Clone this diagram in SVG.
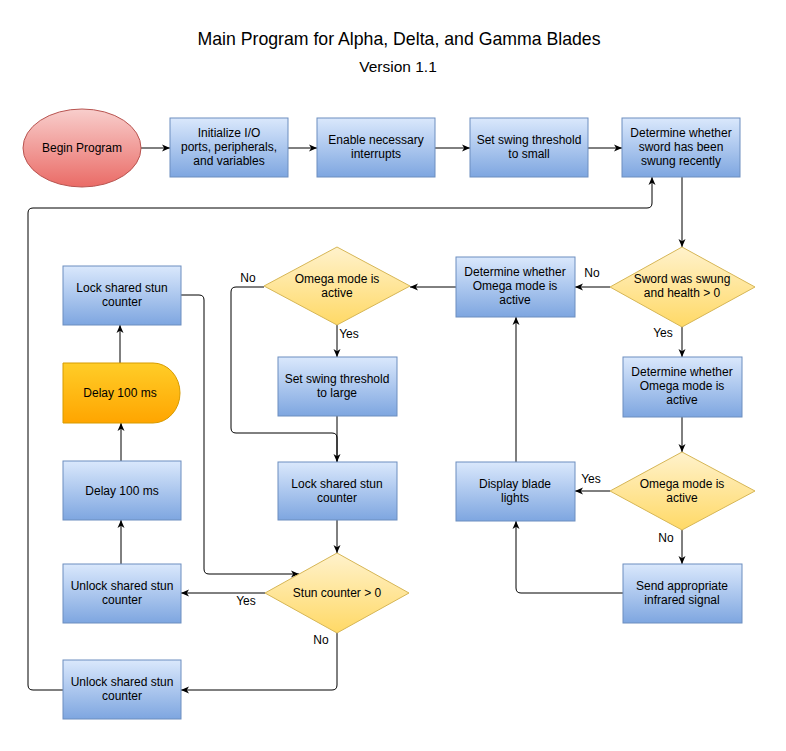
<svg xmlns="http://www.w3.org/2000/svg" width="786" height="751" viewBox="0 0 786 751">
<style>
text{font-family:"Liberation Sans",Arial,sans-serif;font-size:12px;fill:#000;text-anchor:middle}
.title{font-size:17.7px}
.sub{font-size:15.5px}
.box{fill:url(#gBlue);stroke:#6c8ebf;stroke-width:1}
.dia{fill:url(#gYel);stroke:#d6b656;stroke-width:1}
.start{fill:url(#gRed);stroke:#b85450;stroke-width:1}
.delay{fill:url(#gOr);stroke:#d79b00;stroke-width:1}
.edge{fill:none;stroke:#000;stroke-width:1}
.arr{marker-end:url(#ah)}
</style>
<defs>
<linearGradient id="gBlue" x1="0" y1="0" x2="0" y2="1"><stop offset="0" stop-color="#dae8fc"/><stop offset="1" stop-color="#7ea6e0"/></linearGradient>
<linearGradient id="gYel" x1="0" y1="0" x2="0" y2="1"><stop offset="0" stop-color="#fff2cc"/><stop offset="1" stop-color="#ffd966"/></linearGradient>
<linearGradient id="gRed" x1="0" y1="0" x2="0" y2="1"><stop offset="0" stop-color="#f8cecc"/><stop offset="1" stop-color="#ea6b66"/></linearGradient>
<linearGradient id="gOr" x1="0" y1="0" x2="0" y2="1"><stop offset="0" stop-color="#ffcd28"/><stop offset="1" stop-color="#ffa500"/></linearGradient>
<marker id="ah" viewBox="0 0 8 8" markerWidth="8" markerHeight="8" refX="8" refY="4" orient="auto" markerUnits="userSpaceOnUse"><path d="M0,0.5 L8,4 L0,7.5 L2.2,4 Z" fill="#000"/></marker>
</defs>
<rect width="786" height="751" fill="#fff"/>
<text class="title" x="399" y="45">Main Program for Alpha, Delta, and Gamma Blades</text>
<text class="sub" x="398" y="72">Version 1.1</text>

<g id="connectors">
<path class="edge arr" d="M141,148 H170"/>
<path class="edge arr" d="M288,148 H317"/>
<path class="edge arr" d="M435,148 H470"/>
<path class="edge arr" d="M588,148 H622"/>
<path class="edge arr" d="M682,177 V247"/>
<path class="edge arr" d="M610,287 H575"/>
<text x="592" y="277">No</text>
<path class="edge arr" d="M456,287 H410"/>
<path class="edge arr" d="M337,325 V357"/>
<text x="349" y="338">Yes</text>
<path class="edge arr" d="M264,287 H236 Q231,287 231,292 V428 Q231,433 236,433 H332 Q337,433 337,438 V462"/>
<text x="248" y="282">No</text>
<path class="edge" d="M337,416 V462"/>
<path class="edge arr" d="M337,520 V553"/>
<path class="edge arr" d="M265,593 H181"/>
<text x="246" y="605">Yes</text>
<path class="edge arr" d="M337,633 V685 Q337,690 332,690 H181"/>
<text x="321" y="644">No</text>
<path class="edge arr" d="M63,690 H33 Q28,690 28,685 V213 Q28,208 33,208 H647 Q652,208 652,203 V177"/>
<path class="edge arr" d="M121,564 V520"/>
<path class="edge arr" d="M121,461 V423"/>
<path class="edge arr" d="M120,363 V325"/>
<path class="edge arr" d="M181,295 H199 Q204,295 204,300 V569 Q204,574 209,574 H299"/>
<path class="edge arr" d="M682,327 V357"/>
<text x="663" y="337">Yes</text>
<path class="edge arr" d="M682,417 V452"/>
<path class="edge arr" d="M610,491 H575"/>
<text x="591" y="483">Yes</text>
<path class="edge arr" d="M682,530 V564"/>
<text x="666" y="542">No</text>
<path class="edge arr" d="M623,593 H521 Q516,593 516,588 V521"/>
<path class="edge arr" d="M516,462 V317"/>
</g>

<g id="begin"><ellipse class="start" cx="82" cy="148" rx="59" ry="39"/><text x="82" y="152">Begin Program</text></g>
<g id="init"><rect class="box" x="170" y="118" width="118" height="59"/><text x="229" y="137">Initialize I/O</text><text x="229" y="151">ports, peripherals,</text><text x="229" y="165">and variables</text></g>
<g id="interrupts"><rect class="box" x="317" y="118" width="118" height="59"/><text x="376" y="144">Enable necessary</text><text x="376" y="158">interrupts</text></g>
<g id="small"><rect class="box" x="470" y="118" width="118" height="59"/><text x="529" y="144">Set swing threshold</text><text x="529" y="158">to small</text></g>
<g id="swung"><rect class="box" x="622" y="118" width="118" height="59"/><text x="681" y="137">Determine whether</text><text x="681" y="151">sword has been</text><text x="681" y="165">swung recently</text></g>
<g id="swungDecision"><path class="dia" d="M682,247 L755,287 L682,327 L610,287 Z"/><text x="682" y="283">Sword was swung</text><text x="682" y="297">and health &gt; 0</text></g>
<g id="omegaCheck1"><rect class="box" x="456" y="257" width="119" height="60"/><text x="515" y="276">Determine whether</text><text x="515" y="290">Omega mode is</text><text x="515" y="304">active</text></g>
<g id="omegaDecision1"><path class="dia" d="M337,247 L410,286 L337,325 L264,286 Z"/><text x="337" y="283">Omega mode is</text><text x="337" y="297">active</text></g>
<g id="large"><rect class="box" x="278" y="357" width="119" height="59"/><text x="337" y="383">Set swing threshold</text><text x="337" y="397">to large</text></g>
<g id="lockMid"><rect class="box" x="278" y="462" width="119" height="58"/><text x="337" y="488">Lock shared stun</text><text x="337" y="502">counter</text></g>
<g id="stunDecision"><path class="dia" d="M337,553 L409,593 L337,633 L265,593 Z"/><text x="337" y="597">Stun counter &gt; 0</text></g>
<g id="lockLeft"><rect class="box" x="63" y="266" width="118" height="59"/><text x="122" y="292">Lock shared stun</text><text x="122" y="306">counter</text></g>
<g id="delayOrange"><path class="delay" d="M63,363 H153 A27,30 0 0 1 153,423 H63 Z"/><text x="120" y="397">Delay 100 ms</text></g>
<g id="delayBlue"><rect class="box" x="63" y="461" width="118" height="59"/><text x="122" y="495">Delay 100 ms</text></g>
<g id="unlockYes"><rect class="box" x="63" y="564" width="118" height="59"/><text x="122" y="590">Unlock shared stun</text><text x="122" y="604">counter</text></g>
<g id="unlockNo"><rect class="box" x="63" y="660" width="118" height="59"/><text x="122" y="686">Unlock shared stun</text><text x="122" y="700">counter</text></g>
<g id="omegaCheck2"><rect class="box" x="623" y="357" width="119" height="60"/><text x="682" y="376">Determine whether</text><text x="682" y="390">Omega mode is</text><text x="682" y="404">active</text></g>
<g id="omegaDecision2"><path class="dia" d="M682,452 L755,491 L682,530 L610,491 Z"/><text x="682" y="488">Omega mode is</text><text x="682" y="502">active</text></g>
<g id="display"><rect class="box" x="456" y="462" width="119" height="59"/><text x="515" y="488">Display blade</text><text x="515" y="502">lights</text></g>
<g id="infrared"><rect class="box" x="623" y="564" width="119" height="59"/><text x="682" y="590">Send appropriate</text><text x="682" y="604">infrared signal</text></g>
</svg>
